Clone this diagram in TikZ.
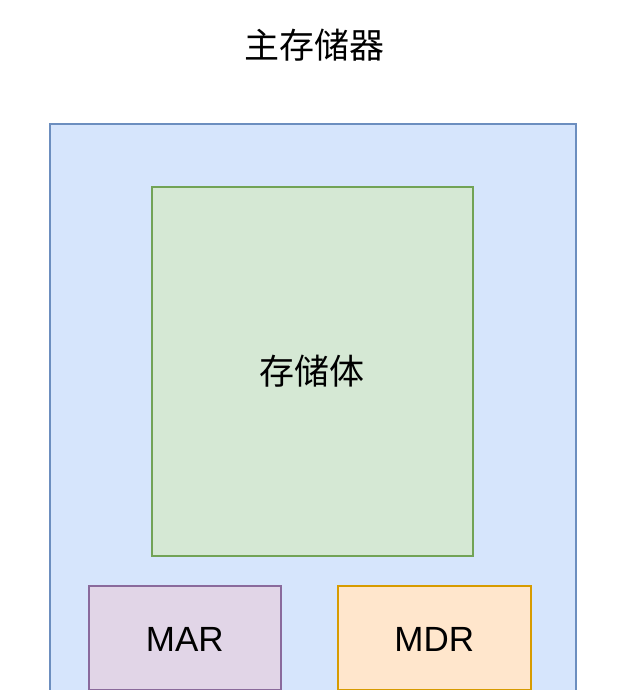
\documentclass[tikz,border=0pt]{standalone}
\usepackage{fontspec}
\setmainfont{Liberation Sans}
\newfontfamily\cjk{Noto Sans CJK SC}
\definecolor{bluefill}{HTML}{D6E5FC}
\definecolor{bluedraw}{HTML}{6C8EBF}
\definecolor{greenfill}{HTML}{D5E8D4}
\definecolor{greendraw}{HTML}{72A356}
\definecolor{purplefill}{HTML}{E1D5E7}
\definecolor{purpledraw}{HTML}{8A6A9C}
\definecolor{orangefill}{HTML}{FFE6CC}
\definecolor{orangedraw}{HTML}{D79B00}
\tikzset{
  box/.style={draw, line width=1.6pt, inner sep=0pt, anchor=north west},
  lbl/.style={inner sep=0pt, font=\fontsize{35}{38}\selectfont, text=black},
  cjklbl/.style={inner sep=0pt, font=\cjk\fontsize{35}{38}\selectfont, text=black},
}
\begin{document}
\begin{tikzpicture}[x=1pt,y=-1pt]
\useasboundingbox (0,0) rectangle (630,690);
\clip (0,0) rectangle (630,690);
\fill[white] (0,0) rectangle (630,690);
\node[box, fill=bluefill, draw=bluedraw, minimum width=526pt, minimum height=600pt] (outer) at (49,123) {};
\node[cjklbl] (title) at (314,45) {主存储器};
\node[box, fill=greenfill, draw=greendraw, minimum width=321pt, minimum height=369pt] (body) at (151,186) {};
\node[cjklbl] (bodylbl) at (body.center) {存储体};
\node[box, fill=purplefill, draw=purpledraw, minimum width=192pt, minimum height=104pt] (mar) at (88,585) {};
\node[lbl] (marlbl) at ([yshift=-2pt]mar.center) {MAR};
\node[box, fill=orangefill, draw=orangedraw, minimum width=193pt, minimum height=104pt] (mdr) at (337,585) {};
\node[lbl] (mdrlbl) at ([yshift=-2pt]mdr.center) {MDR};
\end{tikzpicture}
\end{document}
